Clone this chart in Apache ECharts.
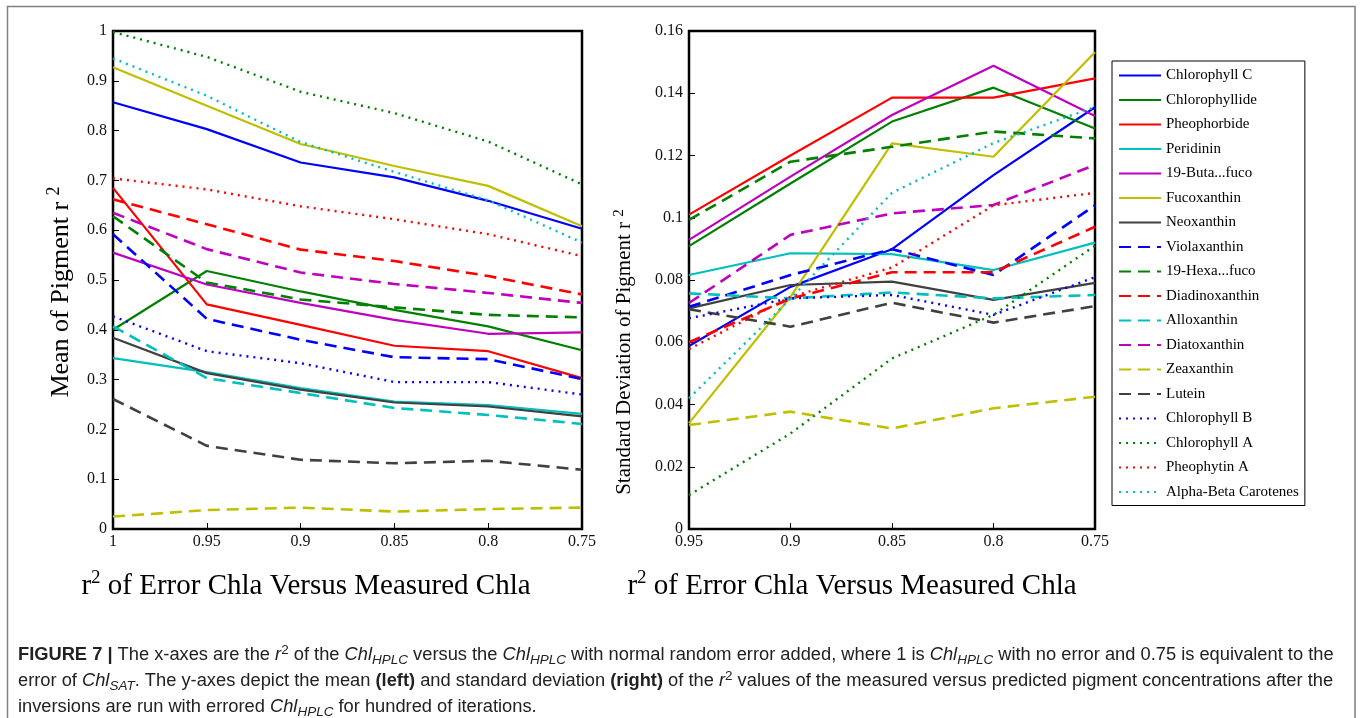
<!DOCTYPE html>
<html>
<head>
<meta charset="utf-8">
<script src="https://cdn.jsdelivr.net/npm/echarts@6/dist/echarts.min.js"></script>
<style>
  html, body { margin: 0; padding: 0; background: #fff; }
  #chart { width: 1360px; height: 718px; }
</style>
</head>
<body>
<div id="chart"></div>
<script>
// ---------------- DATA ----------------
const xLeft = [1, 0.95, 0.9, 0.85, 0.8, 0.75];
const xRight = [0.95, 0.9, 0.85, 0.8, 0.75];
const leftYTicks = [0, 0.1, 0.2, 0.3, 0.4, 0.5, 0.6, 0.7, 0.8, 0.9, 1];
const rightYTicks = [0, 0.02, 0.04, 0.06, 0.08, 0.1, 0.12, 0.14, 0.16];

const pigmentNames = [
  'Chlorophyll C', 'Chlorophyllide', 'Pheophorbide', 'Peridinin', '19-Buta...fuco',
  'Fucoxanthin', 'Neoxanthin', 'Violaxanthin', '19-Hexa...fuco', 'Diadinoxanthin',
  'Alloxanthin', 'Diatoxanthin', 'Zeaxanthin', 'Lutein', 'Chlorophyll B',
  'Chlorophyll A', 'Pheophytin A', 'Alpha-Beta Carotenes'
];

// Mean of pigment r^2 (left panel), at xLeft
const meanChlC      = [0.857, 0.803, 0.736, 0.706, 0.659, 0.603];
const meanChlide    = [0.400, 0.518, 0.477, 0.440, 0.407, 0.359];
const meanPheobide  = [0.685, 0.451, 0.410, 0.368, 0.357, 0.303];
const meanPeridinin = [0.343, 0.315, 0.283, 0.256, 0.249, 0.231];
const meanButa      = [0.555, 0.491, 0.454, 0.420, 0.392, 0.395];
const meanFuco      = [0.927, 0.850, 0.773, 0.729, 0.689, 0.608];
const meanNeo       = [0.384, 0.313, 0.280, 0.254, 0.246, 0.226];
const meanViola     = [0.592, 0.422, 0.380, 0.345, 0.341, 0.301];
const meanHexa      = [0.628, 0.495, 0.461, 0.445, 0.430, 0.425];
const meanDiadino   = [0.662, 0.612, 0.561, 0.538, 0.508, 0.471];
const meanAllo      = [0.407, 0.303, 0.273, 0.243, 0.229, 0.211];
const meanDiato     = [0.635, 0.562, 0.515, 0.492, 0.474, 0.454];
const meanZea       = [0.025, 0.038, 0.043, 0.035, 0.040, 0.043];
const meanLutein    = [0.261, 0.167, 0.139, 0.132, 0.137, 0.119];
const meanChlB      = [0.427, 0.357, 0.333, 0.295, 0.295, 0.270];
const meanChlA      = [0.998, 0.948, 0.878, 0.835, 0.778, 0.692];
const meanPheoA     = [0.704, 0.682, 0.648, 0.622, 0.592, 0.548];
const meanABCar     = [0.945, 0.870, 0.777, 0.717, 0.660, 0.575];

// Standard deviation of pigment r^2 (right panel), at xRight
const sdChlC      = [0.0588, 0.0778, 0.0899, 0.1137, 0.1355];
const sdChlide    = [0.0909, 0.1110, 0.1309, 0.1418, 0.1287];
const sdPheobide  = [0.1010, 0.1200, 0.1386, 0.1386, 0.1448];
const sdPeridinin = [0.0816, 0.0886, 0.0883, 0.0832, 0.0920];
const sdButa      = [0.0929, 0.1132, 0.1330, 0.1488, 0.1327];
const sdFuco      = [0.0340, 0.0746, 0.1239, 0.1196, 0.1532];
const sdNeo       = [0.0709, 0.0784, 0.0795, 0.0736, 0.0791];
const sdViola     = [0.0714, 0.0816, 0.0899, 0.0816, 0.1040];
const sdHexa      = [0.0993, 0.1180, 0.1228, 0.1277, 0.1255];
const sdDiadino   = [0.0600, 0.0740, 0.0825, 0.0825, 0.0971];
const sdAllo      = [0.0757, 0.0741, 0.0760, 0.0741, 0.0752];
const sdDiato     = [0.0726, 0.0945, 0.1014, 0.1041, 0.1170];
const sdZea       = [0.0334, 0.0377, 0.0323, 0.0388, 0.0425];
const sdLutein    = [0.0706, 0.0650, 0.0727, 0.0663, 0.0716];
const sdChlB      = [0.0677, 0.0741, 0.0752, 0.0688, 0.0809];
const sdChlA      = [0.0109, 0.0307, 0.0548, 0.0688, 0.0910];
const sdPheoA     = [0.0578, 0.0746, 0.0840, 0.1040, 0.1080];
const sdABCar     = [0.0420, 0.0740, 0.1080, 0.1240, 0.1356];

const meanValues = [meanChlC, meanChlide, meanPheobide, meanPeridinin, meanButa, meanFuco, meanNeo,
  meanViola, meanHexa, meanDiadino, meanAllo, meanDiato, meanZea, meanLutein,
  meanChlB, meanChlA, meanPheoA, meanABCar];
const sdValues = [sdChlC, sdChlide, sdPheobide, sdPeridinin, sdButa, sdFuco, sdNeo,
  sdViola, sdHexa, sdDiadino, sdAllo, sdDiato, sdZea, sdLutein,
  sdChlB, sdChlA, sdPheoA, sdABCar];

// ---------------- STYLES ----------------
const C = { blue: '#0000ff', green: '#008000', red: '#ff0000', cyan: '#00bfbf',
            magenta: '#bf00bf', olive: '#bfbf00', gray: '#404040' };
const seriesColors = [C.blue, C.green, C.red, C.cyan, C.magenta, C.olive, C.gray,
  C.blue, C.green, C.red, C.cyan, C.magenta, C.olive, C.gray,
  C.blue, C.green, C.red, C.cyan];
const seriesKinds = ['solid','solid','solid','solid','solid','solid','solid',
  'dash','dash','dash','dash','dash','dash','dash',
  'dot','dot','dot','dot'];
const kindStyle = {
  solid: { type: 'solid', width: 2.2 },
  dash:  { type: [12, 7], width: 2.6 },
  dot:   { type: [2, 5], width: 2.4 }
};

const SERIF = "'Liberation Serif', 'DejaVu Serif', serif";
const SANS = "'Liberation Sans', Arial, sans-serif";

const series = [];
pigmentNames.forEach((name, i) => {
  const ls = kindStyle[seriesKinds[i]];
  const common = {
    name: name, type: 'line', symbol: 'none', showSymbol: false, silent: true,
    lineStyle: { color: seriesColors[i], width: ls.width, type: ls.type },
    itemStyle: { color: seriesColors[i] }
  };
  series.push(Object.assign({}, common, {
    xAxisIndex: 0, yAxisIndex: 0,
    data: xLeft.map((x, k) => [x, meanValues[i][k]])
  }));
  series.push(Object.assign({}, common, {
    xAxisIndex: 1, yAxisIndex: 1,
    data: xRight.map((x, k) => [x, sdValues[i][k]])
  }));
});

function axisLabelFmt(v) { return String(+v.toFixed(4)); }

const commonX = {
  type: 'value', inverse: true,
  axisLine: { show: false },
  axisTick: { show: true, inside: true, length: 6, lineStyle: { color: '#000', width: 1 } },
  splitLine: { show: false },
  axisLabel: { color: '#111', fontFamily: SERIF, fontSize: 16, margin: 5,
               showMinLabel: true, showMaxLabel: true, formatter: axisLabelFmt }
};
const commonY = {
  type: 'value',
  axisLine: { show: false },
  axisTick: { show: true, inside: true, length: 6, lineStyle: { color: '#000', width: 1 } },
  splitLine: { show: false },
  axisLabel: { color: '#111', fontFamily: SERIF, fontSize: 16, margin: 6,
               showMinLabel: true, showMaxLabel: true, formatter: axisLabelFmt }
};

const CAP = 18.3;
const capBase = { fontFamily: SANS, fontSize: CAP, fill: '#222', lineHeight: 24 };
const capRich = {
  b: { fontFamily: SANS, fontSize: CAP, fontWeight: 'bold', lineHeight: 24 },
  i: { fontFamily: SANS, fontSize: CAP, fontStyle: 'italic', lineHeight: 24 },
  sub: { fontFamily: SANS, fontSize: 13.5, fontStyle: 'italic', lineHeight: 13, verticalAlign: 'bottom' },
  sup: { fontFamily: SANS, fontSize: 13.5, lineHeight: 13, verticalAlign: 'top' }
};
const capLines = [
  '{b|FIGURE 7 |} The x-axes are the {i|r}{sup|2} of the {i|Chl}{sub|HPLC} versus the {i|Chl}{sub|HPLC} with normal random error added, where 1 is {i|Chl}{sub|HPLC} with no error and 0.75 is equivalent to the',
  'error of {i|Chl}{sub|SAT}. The y-axes depict the mean {b|(left)} and standard deviation {b|(right)} of the {i|r}{sup|2} values of the measured versus predicted pigment concentrations after the',
  'inversions are run with errored {i|Chl}{sub|HPLC} for hundred of iterations.'
];
const capY = [655, 681, 707];

function titleText(x, y, text, size, supSize, rot) {
  return {
    type: 'text', x: x, y: y, rotation: rot || 0, z: 100,
    style: {
      text: text, fontFamily: SERIF, fontSize: size, fill: '#000',
      align: 'center', verticalAlign: 'middle', lineHeight: size * 1.2,
      rich: {
        t: { fontFamily: SERIF, fontSize: size, lineHeight: size * 1.2 },
        sup: { fontFamily: SERIF, fontSize: supSize, lineHeight: supSize, verticalAlign: 'top' }
      }
    }
  };
}

const graphic = [
  { type: 'rect', z: 0, silent: true,
    shape: { x: 7.5, y: 6.5, width: 1347.5, height: 740 },
    style: { fill: 'none', stroke: '#808080', lineWidth: 1.5 } },
  titleText(61, 292, '{t|Mean of Pigment r }{sup|2}', 26, 18, Math.PI / 2),
  titleText(624, 352, '{t|Standard Deviation of Pigment r }{sup|2}', 21, 15, Math.PI / 2),
  titleText(306, 586, '{t|r}{sup|2}{t| of Error Chla Versus Measured Chla}', 29, 19, 0),
  titleText(852, 586, '{t|r}{sup|2}{t| of Error Chla Versus Measured Chla}', 29, 19, 0)
];
capLines.forEach((t, k) => {
  graphic.push({
    type: 'text', x: 18, y: capY[k], z: 100,
    style: Object.assign({}, capBase, { text: t, rich: capRich, align: 'left', verticalAlign: 'middle' })
  });
});

const option = {
  animation: false,
  backgroundColor: '#fff',
  grid: [
    { left: 113, top: 31, width: 469, height: 498, show: true, borderColor: '#000', borderWidth: 2.5, backgroundColor: 'transparent' },
    { left: 689, top: 31, width: 406, height: 498, show: true, borderColor: '#000', borderWidth: 2.5, backgroundColor: 'transparent' }
  ],
  xAxis: [
    Object.assign({}, commonX, { gridIndex: 0, min: 0.75, max: 1, interval: 0.05 }),
    Object.assign({}, commonX, { gridIndex: 1, min: 0.75, max: 0.95, interval: 0.05 })
  ],
  yAxis: [
    Object.assign({}, commonY, { gridIndex: 0, min: leftYTicks[0], max: leftYTicks[leftYTicks.length - 1], interval: 0.1 }),
    Object.assign({}, commonY, { gridIndex: 1, min: rightYTicks[0], max: rightYTicks[rightYTicks.length - 1], interval: 0.02 })
  ],
  legend: {
    data: pigmentNames,
    orient: 'vertical', left: 1112, top: 61,
    itemWidth: 42, itemHeight: 14, itemGap: 9.5, itemTextGap: 4,
    padding: [7, 6, 6, 6],
    borderColor: '#000', borderWidth: 1, backgroundColor: '#fff',
    selectedMode: false,
    itemStyle: { color: 'rgba(0,0,0,0)', borderColor: 'rgba(0,0,0,0)', borderWidth: 0 },
    textStyle: { fontFamily: SERIF, fontSize: 15, color: '#000' }
  },
  graphic: graphic,
  series: series
};

const chart = echarts.init(document.getElementById('chart'), null, { renderer: 'canvas' });
chart.setOption(option);
</script>
</body>
</html>
